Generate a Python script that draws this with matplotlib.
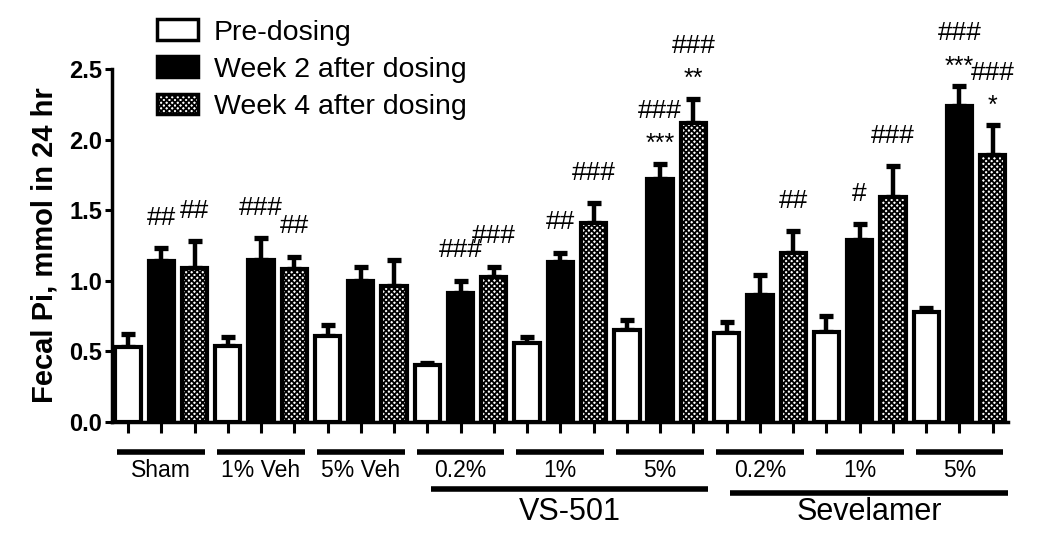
import numpy as np
import matplotlib
matplotlib.use('Agg')
import matplotlib.pyplot as plt
from matplotlib.patches import Patch

plt.rcParams['font.family'] = ['Liberation Sans', 'DejaVu Sans']
plt.rcParams['hatch.linewidth'] = 1.3

# data
groups = ['Sham', '1% Veh', '5% Veh', '0.2%', '1%', '5%', '0.2%', '1%', '5%']
pre = [0.53, 0.54, 0.61, 0.40, 0.56, 0.65, 0.63, 0.64, 0.78]
pre_err = [0.09, 0.06, 0.08, 0.02, 0.04, 0.07, 0.08, 0.11, 0.03]
wk2 = [1.14, 1.15, 1.00, 0.91, 1.13, 1.72, 0.90, 1.29, 2.24]
wk2_err = [0.09, 0.15, 0.10, 0.09, 0.07, 0.11, 0.14, 0.11, 0.14]
wk4 = [1.09, 1.08, 0.96, 1.03, 1.41, 2.12, 1.20, 1.59, 1.89]
wk4_err = [0.19, 0.09, 0.19, 0.07, 0.14, 0.17, 0.15, 0.22, 0.21]
wk2_star = ['', '', '', '', '', '***', '', '', '***']
wk2_hash = ['##', '###', '', '###', '##', '###', '', '#', '###']
wk4_star = ['', '', '', '', '', '**', '', '', '*']
wk4_hash = ['##', '##', '', '###', '###', '###', '##', '###', '###']
treatments = ['VS-501', 'Sevelamer']
series_labels = ['Pre-dosing', 'Week 2 after dosing', 'Week 4 after dosing']

fig = plt.figure(figsize=(10.5, 5.37), dpi=100)
ax = fig.add_axes([0.1067, 0.2142, 0.853, 0.6573])

n = len(groups)
base = np.arange(n) * 3
w = 0.76
styles = [dict(color='white', hatch=None),
          dict(color='black', hatch=None),
          dict(color='white', hatch='xxxxxx')]
series = [(pre, pre_err), (wk2, wk2_err), (wk4, wk4_err)]
for k, (vals, errs) in enumerate(series):
    x = base + k
    ax.bar(x, vals, width=w, color=styles[k]['color'], edgecolor='black',
           hatch=styles[k]['hatch'], linewidth=3, zorder=3)
    ax.errorbar(x, vals, yerr=[np.zeros(n), errs], fmt='none', ecolor='black',
                elinewidth=3.2, capsize=5, capthick=3.8, zorder=2)

# significance marks
for k, vals, errs, stars, hashes in [(1, wk2, wk2_err, wk2_star, wk2_hash),
                                     (2, wk4, wk4_err, wk4_star, wk4_hash)]:
    for i in range(n):
        x = base[i] + k
        top = vals[i] + errs[i]
        off = 22
        if stars[i]:
            ax.annotate(stars[i], (x, top), xytext=(0, 14), textcoords='offset points',
                        ha='center', va='center', fontsize=18, annotation_clip=False)
            off = 38
        if hashes[i]:
            ax.annotate(hashes[i], (x, top), xytext=(0, off), textcoords='offset points',
                        ha='center', va='center', fontsize=19, annotation_clip=False)

ax.set_xlim(-0.48, base[-1] + 2.45)
ax.set_ylim(0, 2.5)
ax.set_yticks(np.arange(0, 2.51, 0.5))
ax.set_yticklabels([f'{v:.1f}' for v in np.arange(0, 2.51, 0.5)], fontsize=17, fontweight='bold')
ax.set_xticks(np.arange(3 * n))
ax.set_xticklabels([])
ax.tick_params(axis='y', direction='out', length=5, width=2.2, pad=2)
ax.tick_params(axis='x', direction='out', length=8, width=2.2)
for s in ['top', 'right']:
    ax.spines[s].set_visible(False)
for s in ['left', 'bottom']:
    ax.spines[s].set_linewidth(2.5)
ax.set_ylabel('Fecal Pi, mmol in 24 hr', fontsize=21, fontweight='bold', labelpad=8)

# group labels under the axis
tr = ax.get_xaxis_transform()
for i, g in enumerate(groups):
    ax.plot([base[i] - 0.32, base[i] + 2.32], [-0.085, -0.085], color='black', lw=4,
            transform=tr, clip_on=False, solid_capstyle='butt')
    ax.text(base[i] + 1, -0.138, g, transform=tr, ha='center', va='center', fontsize=16.5)
for j, t in enumerate(treatments):
    x0 = base[3 + 3 * j]
    x1 = base[5 + 3 * j] + 2
    y = -0.19 - 0.012 * j
    ax.plot([x0 + 0.1, x1 + 0.45], [y, y], color='black', lw=4,
            transform=tr, clip_on=False, solid_capstyle='butt')
    ax.text((x0 + x1) / 2 + 0.3, -0.255, t, transform=tr, ha='center', va='center', fontsize=22)

handles = [Patch(facecolor=styles[k]['color'], edgecolor='black', hatch=styles[k]['hatch'],
                 linewidth=2.5) for k in range(3)]
fig.legend(handles, series_labels, loc='upper left', bbox_to_anchor=(0.125, 1.012),
           frameon=False, fontsize=20.5, handlelength=1.45, handleheight=0.75,
           labelspacing=0.38, handletextpad=0.55)

fig.savefig('out.png', dpi=100)
